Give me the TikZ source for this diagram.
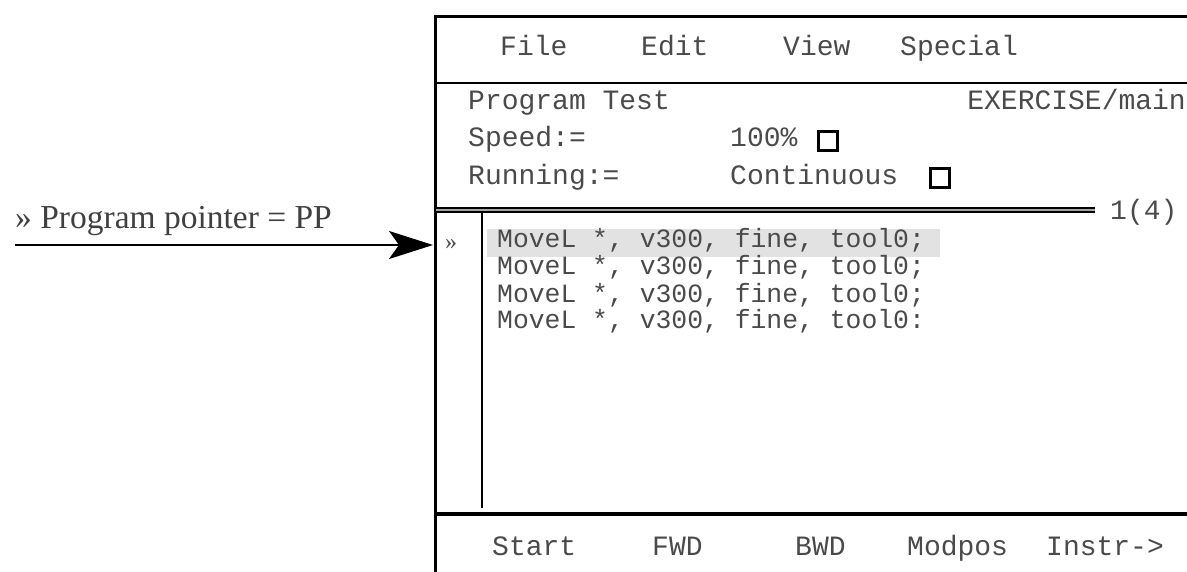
\documentclass[tikz,border=0pt]{standalone}
\usepackage{fontspec}
\setmainfont{Liberation Serif}
\newfontfamily\monofont{Liberation Mono}
\usetikzlibrary{arrows.meta}
\definecolor{txtgray}{HTML}{4A4A4A}
\definecolor{hilite}{HTML}{E2E2E2}
\tikzset{
  lbl/.style={anchor=base west, inner sep=0pt, text=txtgray, font=\monofont\fontsize{28}{30}\selectfont},
  code/.style={anchor=base west, inner sep=0pt, text=txtgray, font=\monofont\fontsize{26.4}{28}\selectfont},
  frame/.style={line width=3pt, black},
  chk/.style={draw=black, line width=3pt, minimum width=19pt, minimum height=19pt, inner sep=0pt, outer sep=0pt},
}
\begin{document}
\begin{tikzpicture}[x=1pt,y=-1pt]
\useasboundingbox (0,0) rectangle (1187,572);
% frame
\coordinate (tl) at (435,17);
\coordinate (tr) at (1187,17);
\coordinate (bl) at (435,572);
\draw[frame] (bl) -- (tl) -- (tr);
\draw[line width=2.5pt] (435,83) -- (1187,83);
\draw[line width=4pt] (435,514) -- (1187,514);
% highlight
\fill[hilite] (487,229) rectangle (940,257);
% double line
\draw[line width=1.5pt, double=gray!70, double distance=2.5pt] (436,210) -- (1095,210);
\draw[line width=2pt] (482,213) -- (482,508);
% menu
\node[lbl] (file) at (500,56) {File};
\node[lbl] (edit) at (641,56) {Edit};
\node[lbl] (view) at (783,56) {View};
\node[lbl] (special) at (900,56) {Special};
\node[lbl] (ptest) at (468,110) {Program Test};
\node[lbl, anchor=base east] (exer) at (1186,110) {EXERCISE/main};
\node[lbl] (speed) at (468,147) {Speed:=};
\node[lbl] (hundred) at (730,147) {100\%};
\node[chk] (box1) at (828,141) {};
\node[lbl] (running) at (468,185) {Running:=};
\node[lbl] (cont) at (730,185) {Continuous};
\node[chk] (box2) at (940,178) {};
\node[lbl] (count) at (1110,220) {1(4)};
% pointer marker
\node[anchor=base west, inner sep=0pt, text=txtgray, font=\fontsize{24}{26}\selectfont] (pp) at (445,250) {»};
% code
\node[code] (c1) at (497,248) {MoveL *, v300, fine, tool0;};
\node[code] (c2) at (497,275) {MoveL *, v300, fine, tool0;};
\node[code] (c3) at (497,302) {MoveL *, v300, fine, tool0;};
\node[code] (c4) at (497,329) {MoveL *, v300, fine, tool0:};
% bottom
\node[lbl] (start) at (492,555) {Start};
\node[lbl] (fwd) at (652,555) {FWD};
\node[lbl] (bwd) at (795,555) {BWD};
\node[lbl] (modpos) at (907,555) {Modpos};
\node[lbl] (instr) at (1046,555) {Instr->};
% label and arrow
\node[anchor=base west, inner sep=0pt, text=black!75, font=\fontsize{33.5}{35}\selectfont] (ptrlbl) at (15,229) {» Program pointer = PP};
\coordinate (ptrstart) at (15,245);
\coordinate (ptrend) at (433,245);
\draw[line width=2pt, -{Stealth[length=44pt, width=28pt, inset=10pt]}] (ptrstart) -- (ptrend);
\end{tikzpicture}
\end{document}
